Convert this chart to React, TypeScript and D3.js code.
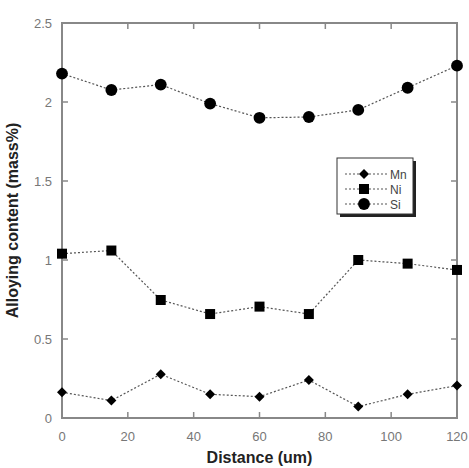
import * as d3 from "d3";

const distance = [0, 15, 30, 45, 60, 75, 90, 105, 120];
const mn = [0.163, 0.11, 0.277, 0.15, 0.135, 0.24, 0.072, 0.15, 0.205];
const ni = [1.04, 1.06, 0.747, 0.658, 0.705, 0.658, 1.0, 0.977, 0.937];
const si = [2.18, 2.076, 2.11, 1.99, 1.9, 1.905, 1.95, 2.09, 2.23];
const xTicks = [0, 20, 40, 60, 80, 100, 120];
const yTicks = [0, 0.5, 1, 1.5, 2, 2.5];
const seriesNames = ["Mn", "Ni", "Si"];

const width = 469;
const height = 468;
const margin = { top: 23, right: 12, bottom: 50, left: 62 };

export default function App() {
  const x = d3.scaleLinear().domain([0, 120]).range([margin.left, width - margin.right]);
  const y = d3.scaleLinear().domain([0, 2.5]).range([height - margin.bottom, margin.top]);

  const line = d3
    .line<[number, number]>()
    .x((d) => x(d[0]))
    .y((d) => y(d[1]));

  const all = [mn, ni, si];
  // diamond = square turned 45deg
  const shapes = [d3.symbolSquare, d3.symbolSquare, d3.symbolCircle];
  const sizes = [50, 100, 110];
  const rot = [45, 0, 0];
  const sym = (i: number) => d3.symbol().type(shapes[i]).size(sizes[i])() as string;

  const x0 = margin.left;
  const x1 = width - margin.right;
  const y0 = height - margin.bottom;
  const y1 = margin.top;
  const axisColor = "#888";
  const labelColor = "#777";

  // legend position
  const lx = 337;
  const ly = 158;

  return (
    <svg width={width} height={height} style={{ position: "absolute", left: 0, top: 0 }}>
      <rect x={0} y={0} width={width} height={height} fill="white" />
      {/* data lines */}
      {all.map((vals, i) => (
        <path
          key={"l" + i}
          d={line(distance.map((d, j) => [d, vals[j]] as [number, number])) as string}
          fill="none"
          stroke="#555"
          strokeWidth={1.2}
          strokeDasharray="2,2"
        />
      ))}
      {/* frame */}
      <rect x={x0} y={y1} width={x1 - x0} height={y0 - y1} fill="none" stroke={axisColor} strokeWidth={2} />
      {/* x ticks */}
      {xTicks.map((t) => (
        <g key={"xt" + t}>
          <line x1={x(t)} x2={x(t)} y1={y0} y2={y0 - 6} stroke={axisColor} strokeWidth={1.5} />
          <line x1={x(t)} x2={x(t)} y1={y1} y2={y1 + 6} stroke={axisColor} strokeWidth={1.5} />
          <text x={x(t)} y={y0 + 23} textAnchor="middle" fontFamily="Liberation Sans, Arial, sans-serif" fontSize={13} fill={labelColor}>
            {t}
          </text>
        </g>
      ))}
      {yTicks.map((t) => (
        <g key={"yt" + t}>
          <line x1={x0} x2={x0 + 6} y1={y(t)} y2={y(t)} stroke={axisColor} strokeWidth={1.5} />
          <line x1={x1} x2={x1 - 6} y1={y(t)} y2={y(t)} stroke={axisColor} strokeWidth={1.5} />
          <text x={x0 - 10} y={y(t) + 4.5} textAnchor="end" fontFamily="Liberation Sans, Arial, sans-serif" fontSize={13} fill={labelColor}>
            {t}
          </text>
        </g>
      ))}
      {/* markers */}
      {all.map((vals, i) =>
        vals.map((v, j) => (
          <path
            key={"m" + i + "-" + j}
            d={sym(i)}
            transform={`translate(${x(distance[j])},${y(v)}) rotate(${rot[i]})`}
            fill="#000"
          />
        ))
      )}
      {/* axis titles */}
      <text x={(x0 + x1) / 2} y={463} textAnchor="middle" fontFamily="Liberation Sans, Arial, sans-serif" fontWeight="bold" fontSize={16} fill="#222">
        Distance (um)
      </text>
      <text
        transform={`translate(18,${(y0 + y1) / 2}) rotate(-90)`}
        textAnchor="middle"
        fontFamily="Liberation Sans, Arial, sans-serif"
        fontWeight="bold"
        fontSize={16}
        fill="#222"
      >
        Alloying content (mass%)
      </text>
      {/* legend */}
      <rect x={lx + 3} y={ly + 3} width={76} height={56} fill="#222" />
      <rect x={lx} y={ly} width={76} height={56} fill="white" stroke="#333" strokeWidth={1} />
      {seriesNames.map((name, i) => {
        const yy = ly + 16 + i * 15;
        return (
          <g key={"lg" + name}>
            <line x1={lx + 8} x2={lx + 50} y1={yy} y2={yy} stroke="#555" strokeWidth={1.2} strokeDasharray="2,2" />
            <path d={sym(i)} transform={`translate(${lx + 27},${yy}) rotate(${rot[i]})`} fill="#000" />
            <text x={lx + 53} y={yy + 4.5} fontFamily="Liberation Sans, Arial, sans-serif" fontSize={12} fill="#444">
              {name}
            </text>
          </g>
        );
      })}
    </svg>
  );
}
